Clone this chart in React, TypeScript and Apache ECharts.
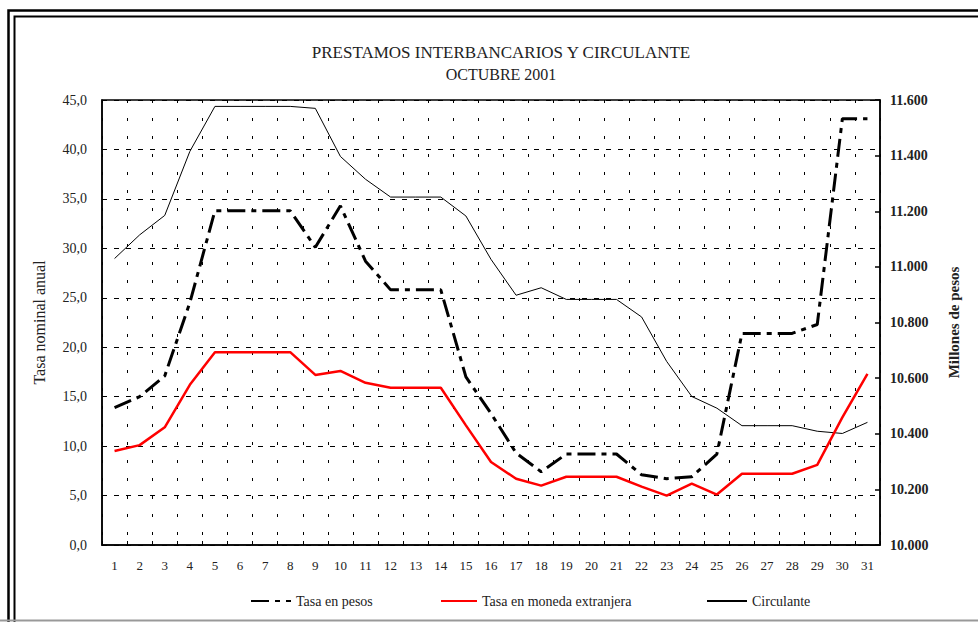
import React, { useEffect, useRef } from "react";
import * as echarts from "echarts";

const days = Array.from({ length: 31 }, (_, i) => String(i + 1));

const tasaPesos = [
  13.9, 15.0, 17.1, 24.5, 33.8, 33.8, 33.8, 33.8, 30.1, 34.3,
  28.7, 25.8, 25.8, 25.8, 17.0, 13.3, 9.3, 7.4, 9.2, 9.2,
  9.2, 7.1, 6.7, 6.9, 9.2, 21.4, 21.4, 21.4, 22.3, 43.1, 43.1,
];

const tasaMonedaExtranjera = [
  9.5, 10.1, 11.9, 16.2, 19.5, 19.5, 19.5, 19.5, 17.2, 17.6,
  16.4, 15.9, 15.9, 15.9, 12.1, 8.4, 6.7, 6.0, 6.9, 6.9,
  6.9, 5.9, 5.0, 6.2, 5.1, 7.2, 7.2, 7.2, 8.1, 12.9, 17.3,
];

const circulante = [
  11030, 11115, 11185, 11415, 11577, 11577, 11577, 11577, 11570, 11397,
  11315, 11251, 11251, 11251, 11183, 11027, 10898, 10925, 10883, 10883,
  10883, 10820, 10660, 10534, 10492, 10429, 10429, 10429, 10409, 10401, 10441,
];

const titleLines = ["PRESTAMOS INTERBANCARIOS Y CIRCULANTE", "OCTUBRE 2001"];
const seriesNames = ["Tasa en pesos", "Tasa en moneda extranjera", "Circulante"];
const leftAxisName = "Tasa nominal anual";
const rightAxisName = "Millones de pesos";

const FONT = "'Liberation Serif', 'DejaVu Serif', serif";

export default function App() {
  const ref = useRef<HTMLDivElement>(null);

  useEffect(() => {
    if (!ref.current) return;
    const chart = echarts.init(ref.current, undefined, { renderer: "svg" });
    const legendBase = {
      orient: "horizontal",
      top: 594,
      padding: 0,
      itemHeight: 14,
      itemStyle: { opacity: 0 },
      textStyle: { fontFamily: FONT, fontSize: 14, color: "#222" },
    };
    chart.setOption({
      animation: false,
      backgroundColor: "#fff",
      textStyle: { fontFamily: FONT },
      graphic: [
        {
          type: "rect",
          shape: { x: 8.5, y: 10.5, width: 1100, height: 800 },
          style: { fill: "none", stroke: "#000", lineWidth: 2.5 },
          silent: true,
        },
        {
          type: "rect",
          shape: { x: 14.5, y: 16.5, width: 1100, height: 800 },
          style: { fill: "none", stroke: "#000", lineWidth: 2 },
          silent: true,
        },
        {
          type: "line",
          shape: { x1: 0, y1: 620.5, x2: 978, y2: 620.5 },
          style: { stroke: "#999", lineWidth: 2 },
          silent: true,
        },
        {
          type: "text",
          x: 501,
          y: 52,
          style: {
            text: titleLines[0],
            font: `17px ${FONT}`,
            fill: "#222",
            textAlign: "center",
            textVerticalAlign: "middle",
          },
        },
        {
          type: "text",
          x: 501,
          y: 74,
          style: {
            text: titleLines[1],
            font: `16px ${FONT}`,
            fill: "#222",
            textAlign: "center",
            textVerticalAlign: "middle",
          },
        },
      ],
      legend: [
        { ...legendBase, left: 250, itemWidth: 40, data: [seriesNames[0]] },
        { ...legendBase, left: 440, itemWidth: 36, data: [seriesNames[1]] },
        { ...legendBase, left: 706, itemWidth: 40, data: [seriesNames[2]] },
      ],
      grid: {
        left: 102,
        right: 98,
        top: 100,
        bottom: 77,
        show: true,
        borderColor: "#000",
        borderWidth: 1.5,
        backgroundColor: "transparent",
      },
      xAxis: {
        type: "category",
        data: days,
        boundaryGap: true,
        axisLine: { show: true, lineStyle: { color: "#000", width: 1.5 } },
        axisTick: { show: true, inside: true, length: 4, lineStyle: { color: "#000" } },
        axisLabel: { color: "#222", fontFamily: FONT, fontSize: 13, margin: 14 },
        splitLine: {
          show: true,
          lineStyle: { color: "#000", width: 1, type: [3, 15] },
        },
      },
      yAxis: [
        {
          type: "value",
          min: 0,
          max: 45,
          interval: 5,
          name: leftAxisName,
          nameLocation: "middle",
          nameGap: 55,
          nameRotate: 90,
          nameTextStyle: { fontFamily: FONT, fontSize: 16, color: "#222" },
          axisLine: { show: true, lineStyle: { color: "#000", width: 1.5 } },
          axisTick: { show: false },
          axisLabel: {
            color: "#222",
            fontFamily: FONT,
            fontSize: 14,
            margin: 15,
            formatter: (v: number) => v.toFixed(1).replace(".", ","),
          },
          splitLine: {
            show: true,
            lineStyle: { color: "#000", width: 1, type: [5, 7] },
          },
        },
        {
          type: "value",
          min: 10000,
          max: 11600,
          interval: 200,
          position: "right",
          name: rightAxisName,
          nameLocation: "middle",
          nameGap: 66,
          nameRotate: 90,
          nameTextStyle: { fontFamily: FONT, fontSize: 15, fontWeight: "bold", color: "#222" },
          axisLine: { show: true, lineStyle: { color: "#000", width: 1.5 } },
          axisTick: { show: true, inside: true, length: 5, lineStyle: { color: "#000", width: 1.5 } },
          axisLabel: {
            color: "#222",
            fontFamily: FONT,
            fontSize: 14,
            fontWeight: "bold",
            margin: 10,
            formatter: (v: number) =>
              `${Math.floor(v / 1000)}.${String(v % 1000).padStart(3, "0")}`,
          },
          splitLine: { show: false },
        },
      ],
      series: [
        {
          name: seriesNames[2],
          type: "line",
          yAxisIndex: 1,
          data: circulante,
          symbol: "none",
          color: "#000",
          lineStyle: { color: "#000", width: 1 },
        },
        {
          name: seriesNames[1],
          type: "line",
          yAxisIndex: 0,
          data: tasaMonedaExtranjera,
          symbol: "none",
          color: "#ff0000",
          lineStyle: { color: "#ff0000", width: 2.5 },
        },
        {
          name: seriesNames[0],
          type: "line",
          yAxisIndex: 0,
          data: tasaPesos,
          symbol: "none",
          color: "#000",
          lineStyle: { color: "#000", width: 3, type: [18, 6, 5, 6] },
        },
      ],
    });
    return () => chart.dispose();
  }, []);

  return (
    <div
      ref={ref}
      style={{ position: "fixed", left: 0, top: 0, width: 978, height: 622 }}
    />
  );
}
